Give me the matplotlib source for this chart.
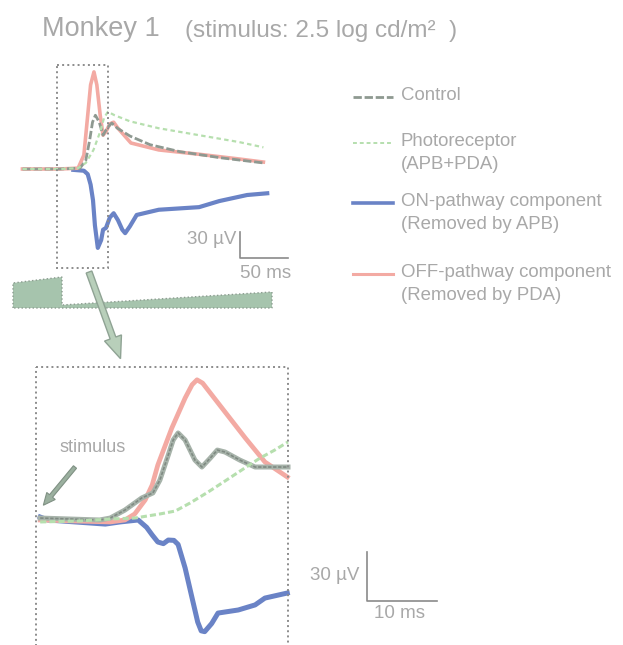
import matplotlib.pyplot as plt
from matplotlib.patches import Rectangle, Polygon, FancyArrow

W, H = 623, 645
plt.rcParams['font.family'] = ['Liberation Sans', 'DejaVu Sans']

# overview traces: time in ms from start of zoom window, amplitude in µV
ctrl_t = [-36, 3, 24, 30, 34, 37, 40, 44, 48, 52, 57, 63, 76, 97, 128, 170, 215]
ctrl_v = [0, 0, 1, 10, 33, 54, 62, 54, 39, 47, 53, 47, 38, 28, 20, 13, 7]

photo_t = [-36, 3, 22, 30, 38, 45, 49, 53, 60, 76, 106, 148, 190, 215]
photo_v = [0, 0, 1, 7, 22, 43, 59, 66, 62, 55, 47, 39, 31, 25]

on_t = [17, 28, 32, 35, 37.5, 39.5, 42.5, 46, 48, 51, 55, 59, 63.5, 68, 71, 76, 83, 106, 148, 169, 198, 219]
on_v = [-1, -2, -6, -18, -36, -65, -91, -82, -70, -68, -56, -51, -59, -70, -74, -66, -53, -47, -44, -37, -30, -28]

off_t = [-36, 3, 22, 28, 32, 35, 38.5, 41.5, 45, 48, 51, 55, 59, 63.5, 77, 106, 148, 190, 215]
off_v = [0, 0, 1, 16, 62, 97, 112, 97, 62, 39, 43, 52, 54, 47, 30, 22, 17, 11.5, 8]

# zoomed traces: time in ms from start of window, amplitude in µV
zctrl_t = [0.6, 9.1, 10.6, 12.7, 15.1, 16.7, 17.7, 18.9, 19.6, 20.3, 21.3, 22.7, 23.7, 24.9, 25.9, 27, 29.1, 31.3, 36]
zctrl_v = [1.2, 0, 1.2, 6.1, 13.5, 16.6, 24.5, 39.9, 49.1, 53.4, 49.1, 36.8, 32.5, 38, 42.9, 41.7, 36.8, 32.5, 32.5]

zphoto_t = [0.6, 6.3, 10.6, 14.1, 17.7, 19.9, 22, 24.6, 27, 29.4, 32, 34.1, 36]
zphoto_v = [-1.2, -0.6, 0.6, 1.2, 3.7, 5.5, 10.4, 17.2, 23.9, 30.7, 38, 42.9, 47.9]

zon_t = [0.6, 1.7, 9.9, 12, 14.6, 15.8, 16.6, 17.4, 18.2, 18.9, 19.7, 20.3, 21.3, 22.3, 23.1, 23.6, 24.1, 25.1, 26,
         28.9, 31.3, 32.7, 35.9]
zon_v = [1.8, 0, -2.5, -1.2, 0, -4.5, -9.2, -13.5, -14.5, -12.3, -12.5, -15, -29.4, -47.9, -62.6, -68, -68.5, -63.5,
         -57.1, -55.2, -52.1, -47.9, -44.8]

zoff_t = [0.6, 10.6, 12.7, 14.1, 15.6, 16.6, 17.4, 19.4, 21.3, 22.3, 23, 23.8, 27, 29.9, 32.7, 35.9]
zoff_v = [0, -1.2, 0, 3.7, 12.3, 21.5, 33.7, 56.4, 74.8, 83, 86, 84, 66.3, 50.3, 35.6, 26.4]

legend_labels = ['Control', 'Photoreceptor\n(APB+PDA)',
                 'ON-pathway component\n(Removed by APB)',
                 'OFF-pathway component\n(Removed by PDA)']

C_CTRL, C_PHOTO, C_ON, C_OFF = '#8e9991', '#b6dfae', '#6a83c6', '#f3aaa3'
C_TXT = '#a8a8a8'

fig = plt.figure(figsize=(W / 100, H / 100), dpi=100)


def px_axes(x0, y0, x1, y1):
    ax = fig.add_axes([x0 / W, 1 - y1 / H, (x1 - x0) / W, (y1 - y0) / H])
    ax.set_axis_off()
    return ax


def calibrate(ax, box, x0, sx, y0, sy):
    # x0/y0: pixel of t=0 / v=0, sx/sy: pixels per ms / per µV
    bx0, by0, bx1, by1 = box
    ax.set_xlim((bx0 - x0) / sx, (bx1 - x0) / sx)
    ax.set_ylim((y0 - by1) / sy, (y0 - by0) / sy)


# overview
top_box = (0, 40, 330, 335)
ax1 = px_axes(*top_box)
calibrate(ax1, top_box, 57, 0.96, 169, 0.867)
ax1.plot(on_t, on_v, color=C_ON, lw=3)
ax1.plot(off_t, off_v, color=C_OFF, lw=2.6)
ax1.plot(ctrl_t, ctrl_v, color=C_CTRL, lw=2, ls=(0, (3, 1)))
ax1.plot(photo_t, photo_v, color=C_PHOTO, lw=1.6, ls=(0, (2, 1.5)))
ax1.plot([190.6, 190.6, 240.6], [-72.7, -102.7, -102.7], color='#8a8a8a', lw=1.2)

# zoomed window
in_box = (30, 360, 450, 645)
ax2 = px_axes(*in_box)
calibrate(ax2, in_box, 36, 7.0, 520, 1.63)
ax2.plot(zon_t, zon_v, color=C_ON, lw=3.6)
ax2.plot(zoff_t, zoff_v, color=C_OFF, lw=3.4)
ax2.plot(zctrl_t, zctrl_v, color='#a7b3aa', lw=3.6)
ax2.plot(zctrl_t, zctrl_v, color='#7f8a82', lw=1.2, ls=(0, (2, 1)))
ax2.plot(zphoto_t, zphoto_v, color=C_PHOTO, lw=2.2, ls=(0, (2, 1)))
ax2.plot([47.3, 47.3, 57.3], [-19.7, -49.7, -49.7], color='#8a8a8a', lw=1.2)

# overlay in pixels for frames, stimulus and text
ov = px_axes(0, 0, W, H)
ov.set_xlim(0, W)
ov.set_ylim(H, 0)
ov.add_patch(Rectangle((57, 65), 51, 203, fill=False, ec='#8c8c8c', lw=1.4, ls=':'))
ov.add_patch(Rectangle((36, 367), 252, 290, fill=False, ec='#8c8c8c', lw=1.4, ls=':'))
ov.add_patch(Polygon([(13, 308), (13, 283), (62, 277), (62, 305), (272, 292), (272, 308)],
                     closed=True, fc='#a6c4ad', ec='#8c9c90', lw=1, ls=':'))
ov.add_patch(FancyArrow(89, 272, 24, 66, width=6, head_width=18, head_length=22,
                        length_includes_head=False, fc='#b8cfba', ec='#8fa394', lw=1))
ov.add_patch(FancyArrow(75, 467, -24, 29, width=4, head_width=11, head_length=12,
                        fc='#9bb09f', ec='#7f9083', lw=0.8))

ov.text(42, 29, 'Monkey 1', fontsize=19.5, color=C_TXT, va='center')
ov.text(185, 31, '(stimulus: 2.5 log cd/m²  )', fontsize=17.5, color=C_TXT, va='center')
ov.text(236, 240, '30 µV', fontsize=13.5, color=C_TXT, ha='right', va='center')
ov.text(266, 273, '50 ms', fontsize=13.5, color=C_TXT, ha='center', va='center')
ov.text(359, 576, '30 µV', fontsize=13.5, color=C_TXT, ha='right', va='center')
ov.text(399, 614, '10 ms', fontsize=13.5, color=C_TXT, ha='center', va='center')
ov.text(93, 448, 'stimulus', fontsize=13, color=C_TXT, ha='center', va='center')

# legend
leg_y = [97, 143, 203, 274]
leg_style = [dict(color=C_CTRL, lw=2, ls=(0, (3, 1))),
             dict(color=C_PHOTO, lw=1.4, ls=(0, (2, 1.5))),
             dict(color=C_ON, lw=2.6),
             dict(color=C_OFF, lw=2.2)]
for y, lab, st in zip(leg_y, legend_labels, leg_style):
    ov.plot([353, 393], [y, y], **st)
    ov.text(401, y - 10, lab, fontsize=13.4, color=C_TXT, va='top', linespacing=1.45)

fig.savefig('out.png', dpi=100)
